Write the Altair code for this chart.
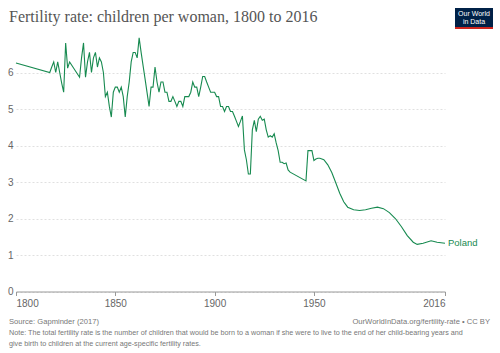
import altair as alt
import pandas as pd

years = [1800, 1817, 1818, 1819, 1820, 1821, 1822, 1823, 1824, 1825, 1826, 1827,
         1832, 1833, 1834, 1835, 1836, 1837, 1838, 1839, 1840, 1841, 1842, 1843,
         1844, 1845, 1846, 1847, 1848, 1849, 1850, 1851, 1852, 1853, 1854, 1855,
         1856, 1857, 1858, 1859, 1860, 1861, 1862, 1863, 1864, 1865, 1867, 1868,
         1869, 1870, 1871, 1872, 1873, 1874, 1875, 1876, 1877, 1878, 1879, 1880,
         1881, 1882, 1883, 1884, 1885, 1886, 1887, 1888, 1889, 1890, 1891, 1892,
         1893, 1894, 1895, 1896, 1897, 1898, 1899, 1900, 1901, 1902, 1903, 1904,
         1905, 1906, 1907, 1908, 1909, 1910, 1911, 1912, 1913, 1914, 1915, 1916,
         1917, 1918, 1919, 1920, 1921, 1922, 1923, 1924, 1925, 1926, 1927, 1928,
         1929, 1930, 1931, 1932, 1933, 1934, 1935, 1936, 1937, 1938, 1946, 1947,
         1949, 1950, 1951, 1952, 1953, 1955, 1957, 1959, 1961, 1963, 1965, 1967,
         1970, 1973, 1976, 1979, 1982, 1985, 1988, 1991, 1994, 1997, 2000, 2002,
         2005, 2009, 2012, 2016]
values = [6.26, 6.00, 6.15, 6.29, 6.00, 6.29, 6.00, 5.71, 5.46, 6.81, 6.12, 6.29,
          5.87, 6.40, 6.81, 5.87, 6.29, 6.55, 6.00, 6.40, 6.55, 6.15, 6.40, 6.29,
          6.00, 5.34, 5.46, 5.07, 4.78, 5.46, 5.60, 5.60, 5.46, 5.60, 5.34, 4.78,
          5.34, 5.74, 6.29, 6.55, 6.55, 6.40, 6.95, 6.55, 6.18, 5.82, 5.07, 5.60,
          5.60, 6.15, 5.74, 5.46, 5.74, 5.74, 5.46, 5.46, 5.21, 5.21, 5.34, 5.21,
          5.07, 5.21, 5.21, 5.07, 5.34, 5.34, 5.34, 5.46, 5.74, 5.60, 5.60, 5.34,
          5.60, 5.89, 5.89, 5.74, 5.60, 5.46, 5.46, 5.46, 5.34, 5.34, 5.07, 5.07,
          4.93, 5.07, 5.07, 4.93, 4.93, 4.80, 4.66, 4.52, 4.66, 4.81, 3.88, 3.61,
          3.22, 3.22, 4.43, 4.69, 4.38, 4.72, 4.80, 4.69, 4.72, 4.43, 4.23, 4.27,
          4.23, 4.32, 4.07, 3.86, 3.54, 3.54, 3.50, 3.52, 3.33, 3.27, 3.03, 3.86,
          3.86, 3.59, 3.63, 3.65, 3.65, 3.61, 3.47, 3.26, 2.98, 2.69, 2.46, 2.31,
          2.24, 2.22, 2.24, 2.28, 2.31, 2.27, 2.16, 2.00, 1.78, 1.53, 1.35, 1.29,
          1.32, 1.39, 1.35, 1.32]
country = "Poland"
x_ticks = [1800, 1850, 1900, 1950, 2016]
y_ticks = [0, 1, 2, 3, 4, 5, 6]

title_text = "Fertility rate: children per woman, 1800 to 2016"
source_text = "Source: Gapminder (2017)"
url_text = "OurWorldInData.org/fertility-rate • CC BY"
note_lines = [
    "Note: The total fertility rate is the number of children that would be born to a woman if she were to live to the end of her child-bearing years and",
    "give birth to children at the current age-specific fertility rates.",
]

GREEN = "#178a50"
df = pd.DataFrame({"year": years, "value": values})
label_df = pd.DataFrame({"year": [years[-1]], "value": [values[-1]], "name": [country]})

x_enc = alt.X("year:Q", scale=alt.Scale(domain=[1800, 2016], nice=False, zero=False),
              axis=alt.Axis(values=x_ticks, format="d", title=None, grid=False,
                            labelFlush=True, domainColor="#999", tickColor="#999",
                            tickSize=4, labelColor="#666", labelFontSize=10,
                            labelFont="Liberation Sans", labelPadding=3))
y_enc = alt.Y("value:Q", scale=alt.Scale(domain=[0, 7], nice=False),
              axis=alt.Axis(values=y_ticks, title=None, domain=False, ticks=False,
                            gridDash=[2, 2], gridColor="#e0e0e0", labelColor="#666",
                            labelFontSize=10, labelFont="Liberation Sans",
                            labelPadding=3))

line = alt.Chart(df).mark_line(color=GREEN, strokeWidth=1.1).encode(x=x_enc, y=y_enc)

label = alt.Chart(label_df).mark_text(
    align="left", baseline="middle", dx=3, color=GREEN, fontSize=9.5,
    font="Liberation Sans").encode(x="year:Q", y="value:Q", text="name:N")


def txt(s, x, y, **kw):
    return alt.Chart(pd.DataFrame({"t": [s]})).mark_text(**kw).encode(
        text="t:N", x=alt.value(x), y=alt.value(y))


title = txt(title_text, -7, -19, align="left", baseline="middle",
            font="Liberation Serif", fontSize=16, color="#555")
source = txt(source_text, -7, 286, align="left", baseline="middle",
             font="Liberation Sans", fontSize=7.6, color="#777")
url = txt(url_text, 474, 286, align="right", baseline="middle",
          font="Liberation Sans", fontSize=7.6, color="#777")
note1 = txt(note_lines[0], -7, 297, align="left", baseline="middle",
            font="Liberation Sans", fontSize=7.2, color="#777")
note2 = txt(note_lines[1], -7, 308, align="left", baseline="middle",
            font="Liberation Sans", fontSize=7.2, color="#777")

logo_bg = alt.Chart(pd.DataFrame({"a": [0]})).mark_rect(color="#002147").encode(
    x=alt.value(439), x2=alt.value(477), y=alt.value(-28), y2=alt.value(-7))
logo_bar = alt.Chart(pd.DataFrame({"a": [0]})).mark_rect(color="#ce261e").encode(
    x=alt.value(439), x2=alt.value(477), y=alt.value(-9), y2=alt.value(-7))
logo1 = txt("Our World", 458, -22, align="center", baseline="middle",
            font="Liberation Sans", fontSize=7, color="white")
logo2 = txt("in Data", 458, -14, align="center", baseline="middle",
            font="Liberation Sans", fontSize=7, color="white")

chart = alt.layer(line, label, title, source, url, note1, note2,
                  logo_bg, logo_bar, logo1, logo2).properties(
    width=429, height=255.5,
    autosize=alt.AutoSizeParams(type="none"),
    padding={"left": 16, "top": 36, "right": 55, "bottom": 61.5},
    background="white",
).configure_view(stroke=None)

chart.save("out.html", embed_options={"renderer": "svg", "actions": False})
